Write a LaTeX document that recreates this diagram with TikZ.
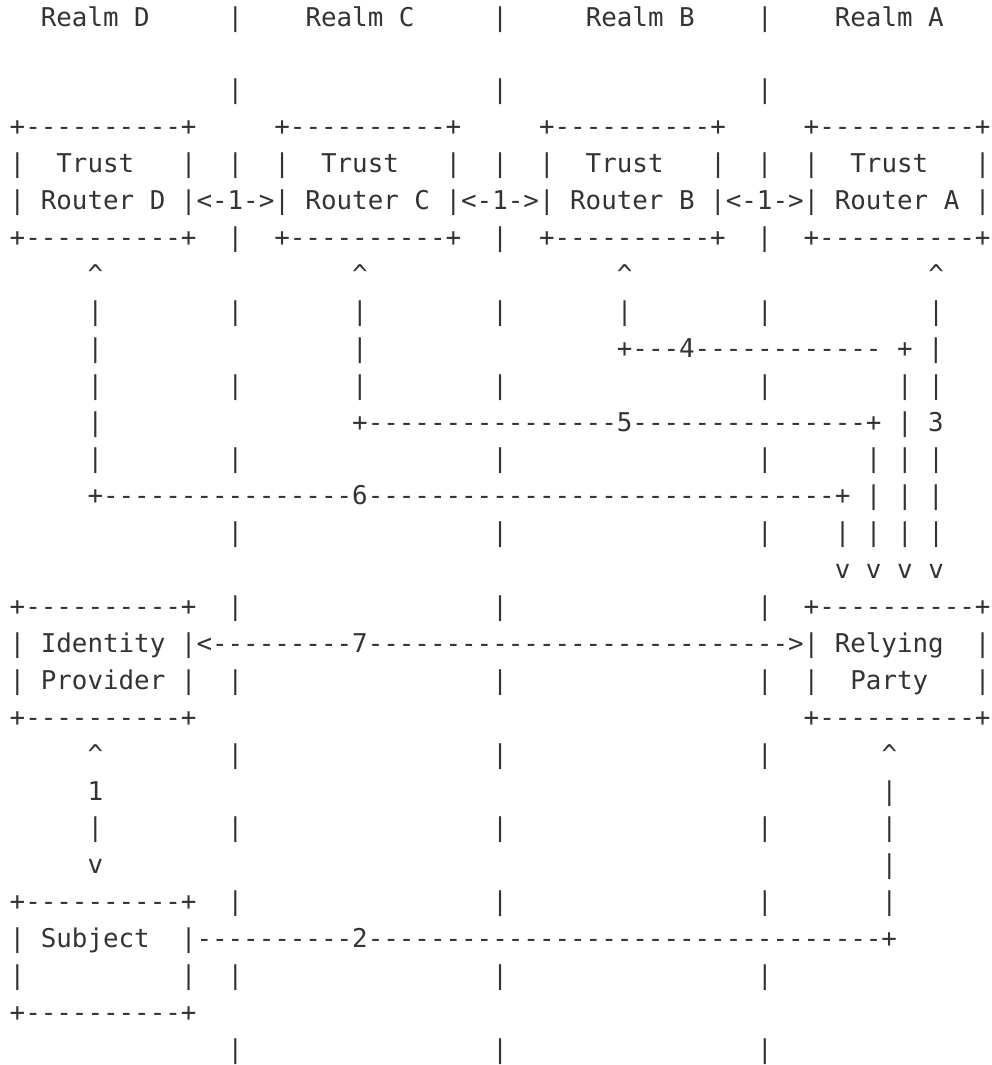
\documentclass[tikz,border=0pt]{standalone}
\usepackage{fontspec}
\setmonofont{DejaVu Sans Mono}
\usepackage{tikz}

\definecolor{ink}{HTML}{333333}
% n character cells of blank space
\newcommand\gap[1]{\hskip#1\fontcharwd\font`x\relax}
\newcommand\asciiup{\textasciicircum}
\tikzset{
  line/.style={anchor=base west, inner sep=0pt, outer sep=0pt, text=ink,
    font=\ttfamily\fontsize{25.86pt}{30pt}\selectfont},
}

\begin{document}
\begin{tikzpicture}[x=1pt,y=-1pt]
				\useasboundingbox (0,0) rectangle (991,1065);
				% realms and their borders
				\node [line] (l1) at (9.7,27.0) {\gap{2}Realm D\gap{5}|\gap{4}Realm C\gap{5}|\gap{5}Realm B\gap{4}|\gap{4}Realm A};
				\node [line] (l3) at (9.7,98.9) {\gap{14}|\gap{16}|\gap{16}|};
				% trust routers
				\node [line] (l4) at (9.7,135.8) {+----------+\gap{5}+----------+\gap{5}+----------+\gap{5}+----------+};
				\node [line] (l5) at (9.7,172.7) {|\gap{2}Trust\gap{3}|\gap{2}|\gap{2}|\gap{2}Trust\gap{3}|\gap{2}|\gap{2}|\gap{2}Trust\gap{3}|\gap{2}|\gap{2}|\gap{2}Trust\gap{3}|};
				\node [line] (l6) at (9.7,209.6) {| Router D |<-1->| Router C |<-1->| Router B |<-1->| Router A |};
				\node [line] (l7) at (9.7,246.5) {+----------+\gap{2}|\gap{2}+----------+\gap{2}|\gap{2}+----------+\gap{2}|\gap{2}+----------+};
				% messages 3 to 6
				\node [line] (l8) at (9.7,283.4) {\gap{5}\asciiup\gap{16}\asciiup\gap{16}\asciiup\gap{19}\asciiup};
				\node [line] (l9) at (9.7,320.3) {\gap{5}|\gap{8}|\gap{7}|\gap{8}|\gap{7}|\gap{8}|\gap{10}|};
				\node [line] (l10) at (9.7,357.2) {\gap{5}|\gap{16}|\gap{16}+---4------------ + |};
				\node [line] (l11) at (9.7,394.1) {\gap{5}|\gap{8}|\gap{7}|\gap{8}|\gap{16}|\gap{8}| |};
				\node [line] (l12) at (9.7,431.0) {\gap{5}|\gap{16}+----------------5---------------+ | 3};
				\node [line] (l13) at (9.7,467.9) {\gap{5}|\gap{8}|\gap{16}|\gap{16}|\gap{6}| | |};
				\node [line] (l14) at (9.7,504.8) {\gap{5}+----------------6------------------------------+ | | |};
				\node [line] (l15) at (9.7,541.7) {\gap{14}|\gap{16}|\gap{16}|\gap{4}| | | |};
				\node [line] (l16) at (9.7,578.6) {\gap{53}v v v v};
				% identity provider and relying party
				\node [line] (l17) at (9.7,615.5) {+----------+\gap{2}|\gap{16}|\gap{16}|\gap{2}+----------+};
				\node [line] (l18) at (9.7,652.4) {| Identity |<---------7--------------------------->| Relying\gap{2}|};
				\node [line] (l19) at (9.7,689.3) {| Provider |\gap{2}|\gap{16}|\gap{16}|\gap{2}|\gap{2}Party\gap{3}|};
				\node [line] (l20) at (9.7,726.2) {+----------+\gap{39}+----------+};
				% subject, messages 1 and 2
				\node [line] (l21) at (9.7,763.1) {\gap{5}\asciiup\gap{8}|\gap{16}|\gap{16}|\gap{7}\asciiup};
				\node [line] (l22) at (9.7,800.0) {\gap{5}1\gap{50}|};
				\node [line] (l23) at (9.7,836.9) {\gap{5}|\gap{8}|\gap{16}|\gap{16}|\gap{7}|};
				\node [line] (l24) at (9.7,873.8) {\gap{5}v\gap{50}|};
				\node [line] (l25) at (9.7,910.7) {+----------+\gap{2}|\gap{16}|\gap{16}|\gap{7}|};
				\node [line] (l26) at (9.7,947.6) {| Subject\gap{2}|----------2---------------------------------+};
				\node [line] (l27) at (9.7,984.5) {|\gap{10}|\gap{2}|\gap{16}|\gap{16}|};
				\node [line] (l28) at (9.7,1021.4) {+----------+};
				\node [line] (l29) at (9.7,1058.3) {\gap{14}|\gap{16}|\gap{16}|};
			\end{tikzpicture}
\end{document}
